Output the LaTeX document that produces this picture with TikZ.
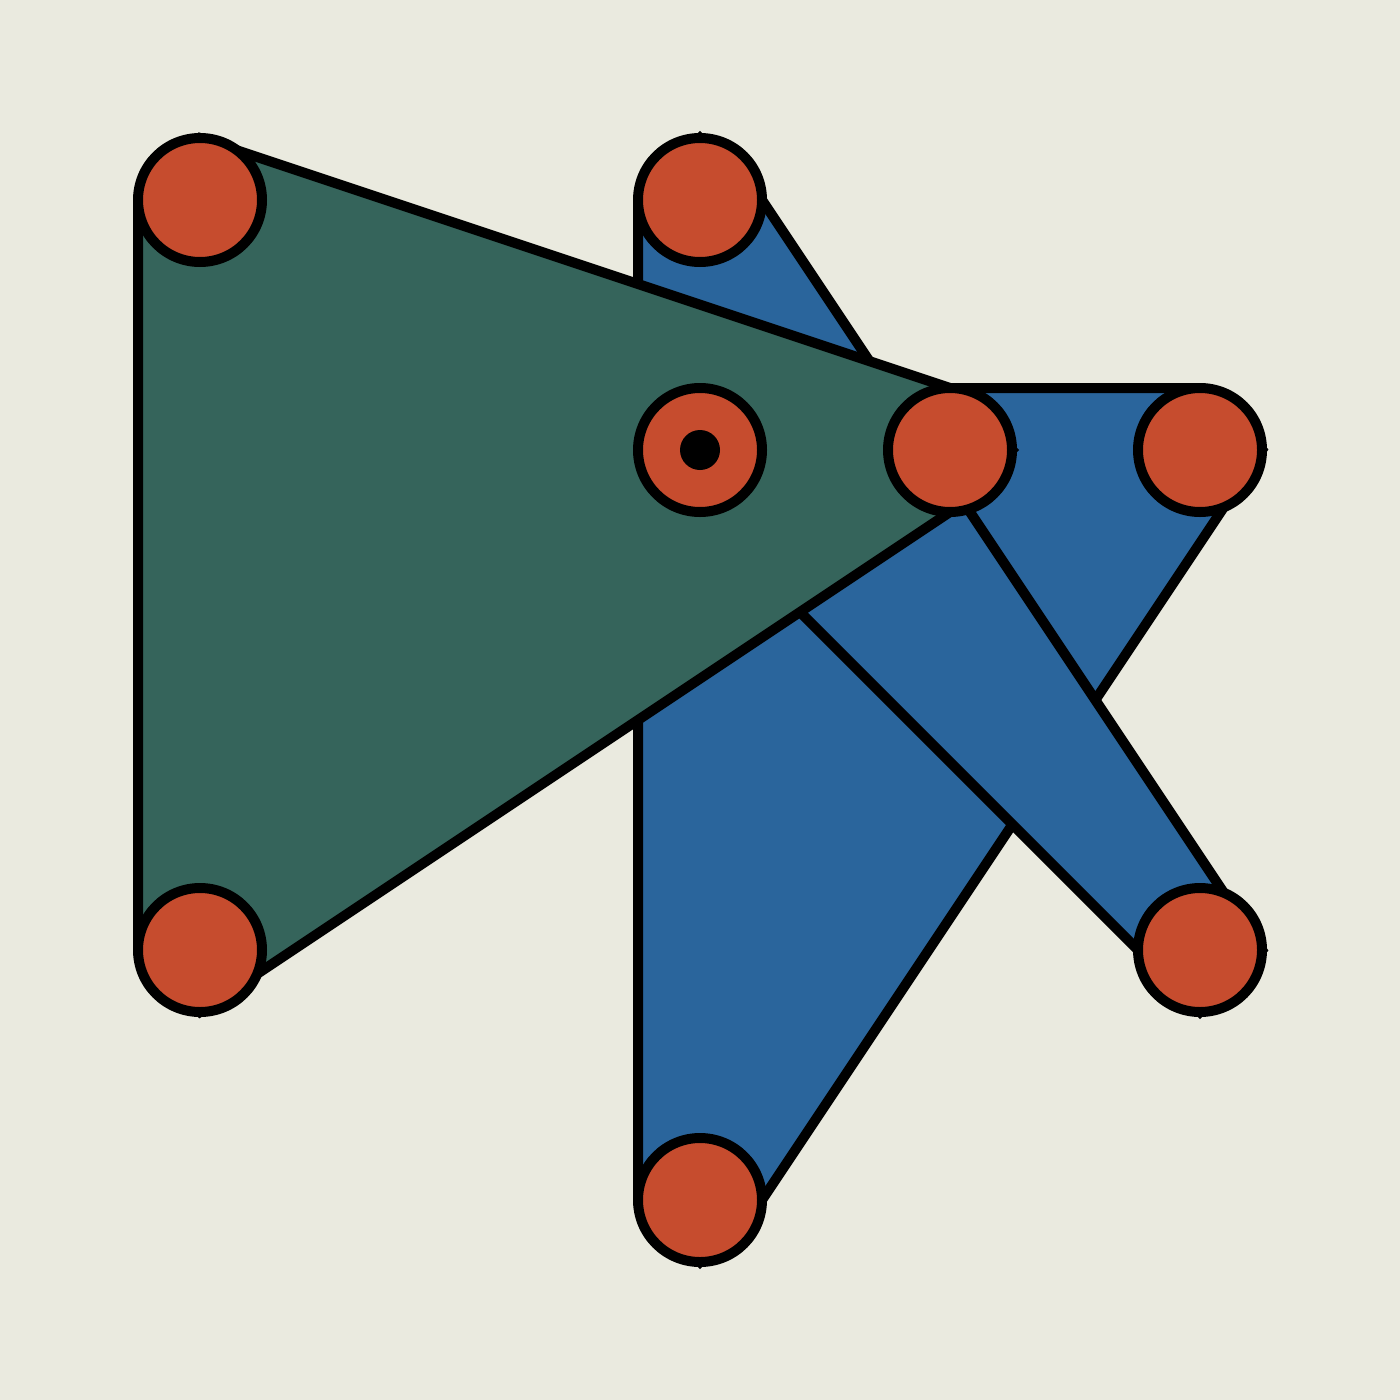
\documentclass[tikz,border=0pt]{standalone}
\pgfdeclarelayer{hulls}
\pgfsetlayers{hulls,main}
\definecolor{bgc}{RGB}{234,234,223}
\definecolor{redc}{RGB}{198,76,46}
\definecolor{greenc}{RGB}{53,100,91}
\definecolor{bluec}{RGB}{42,101,156}
\begin{document}
\begin{tikzpicture}[x=1pt,y=-1pt,
  vtx/.style={circle,draw=black,fill=redc,line width=10pt,minimum size=124pt,inner sep=0pt,outer sep=0pt},
  hub/.style={circle,fill=black,minimum size=40pt,inner sep=0pt,outer sep=0pt},
  hull/.style={draw=black,line width=10pt,line join=miter}]
\useasboundingbox (0,0) rectangle (1400,1400);
\node[vtx] (A) at (200,200) {};
\node[vtx] (B) at (700,200) {};
\node[vtx] (C) at (700,450) {};
\node[vtx] (D) at (950,450) {};
\node[vtx] (E) at (1200,450) {};
\node[vtx] (F) at (200,950) {};
\node[vtx] (G) at (1200,950) {};
\node[vtx] (H) at (700,1200) {};
\node[hub] (Cdot) at (C) {};
\begin{pgfonlayer}{hulls}
  \fill[bgc] (0,0) rectangle (1400,1400);
  \draw[hull,fill=bluec] (C.west) -- (C.north) -- (E.north) -- (E.east) -- (H.east) -- (H.south) -- (H.west) -- cycle;
  \draw[hull,fill=bluec] (B.west) -- (B.north) -- (B.east) -- (G.east) -- (G.south) -- (C.west) -- cycle;
  \draw[hull,fill=greenc] (A.west) -- (A.north) -- (D.north) -- (D.east) -- (D.south) -- (F.south) -- (F.west) -- cycle;
\end{pgfonlayer}
\end{tikzpicture}
\end{document}
